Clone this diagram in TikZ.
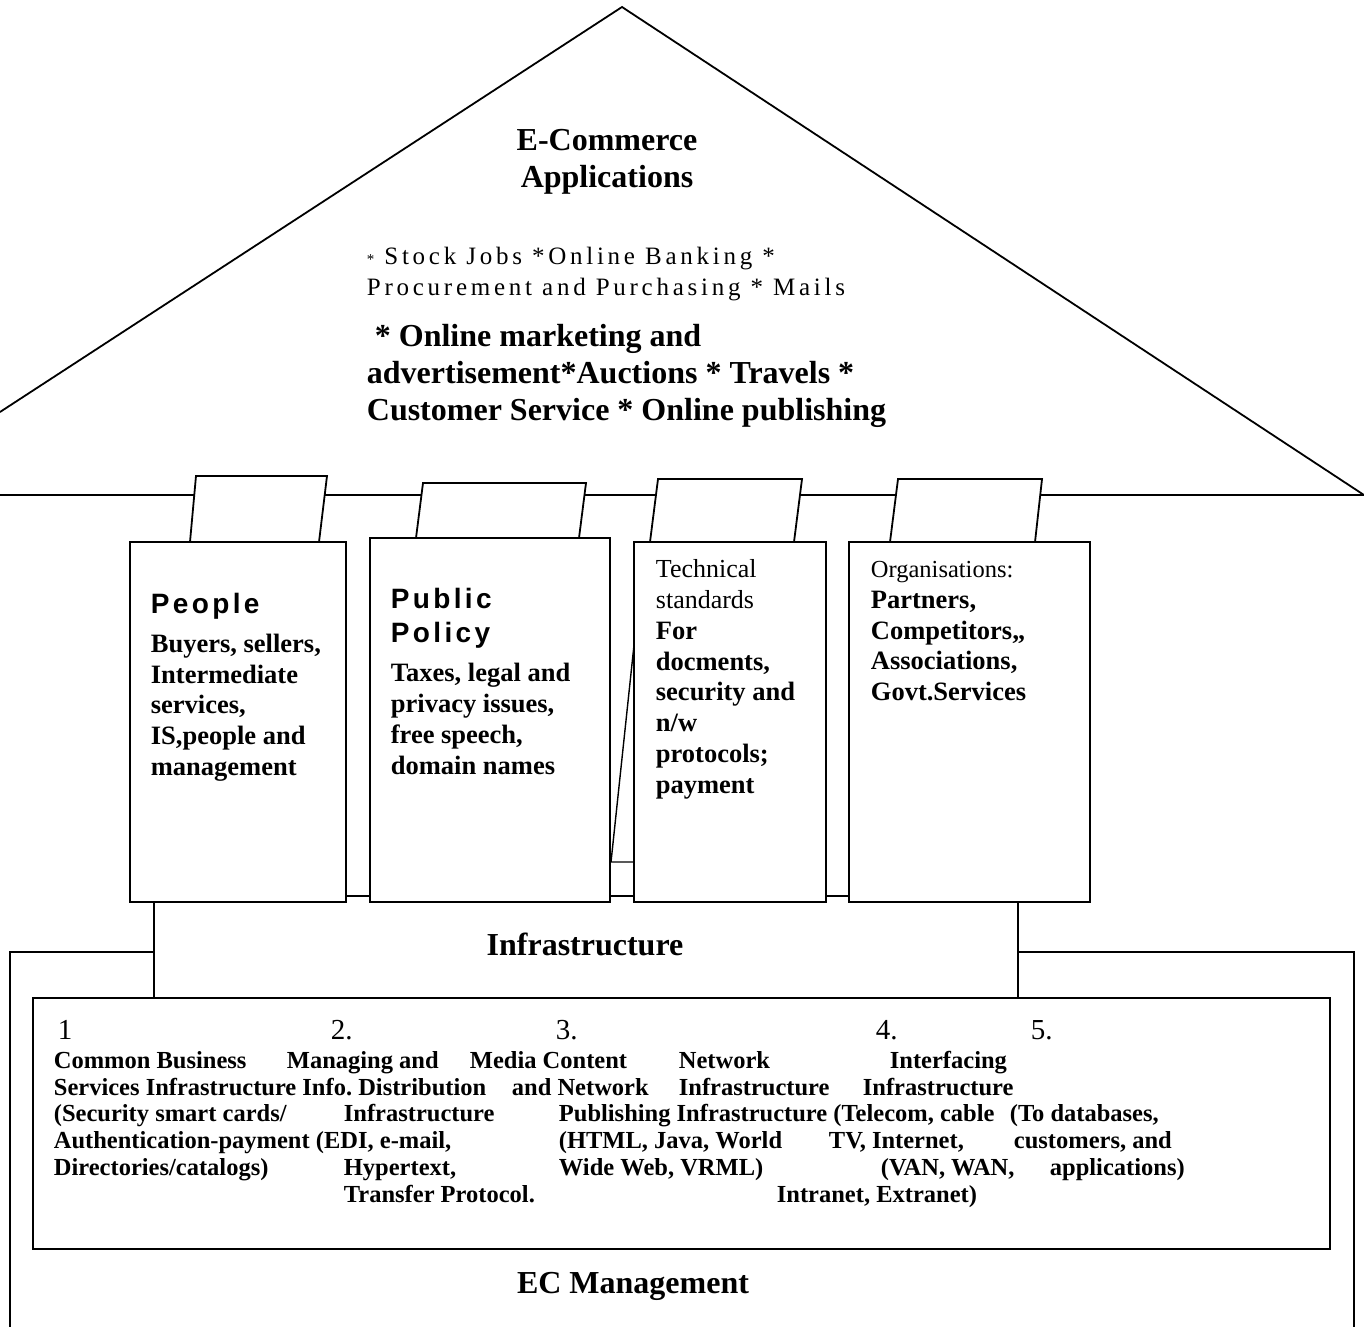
\documentclass[tikz,border=0pt]{standalone}
\usepackage{fontspec}
\setmainfont{Liberation Serif}
\newfontfamily\sansLS[LetterSpace=12]{Liberation Sans}
\newfontfamily\serifLS[LetterSpace=15]{Liberation Serif}
\frenchspacing
\begin{document}
\frenchspacing
\begin{tikzpicture}[x=1pt,y=-1pt,line width=1.8pt,line join=miter,
  tx/.style={anchor=base west,inner sep=0pt},
  ctr/.style={anchor=base,inner sep=0pt},
  shp/.style={draw,fill=white},
  title/.style={font=\frenchspacing\fontsize{32}{37}\selectfont\bfseries},
  small/.style={font=\serifLS\fontsize{25}{31}\selectfont},
  pill/.style={font=\frenchspacing\fontsize{26.5}{30.5}\selectfont\bfseries},
  pillhead/.style={font=\sansLS\fontsize{28}{34}\selectfont\bfseries},
  pillreg/.style={font=\fontsize{26}{30}\selectfont},
  orgreg/.style={font=\fontsize{24.5}{30}\selectfont},
  bot/.style={font=\frenchspacing\fontsize{24.5}{27}\selectfont\bfseries},
  num/.style={font=\fontsize{29}{32}\selectfont}]
\useasboundingbox (0,0) rectangle (1364,1326);
% EC management frame (open at bottom)
\draw (10,1330) -- (10,952) -- (1354,952) -- (1354,1330);
% Infrastructure block
\draw[shp] (154,896) rectangle (1018,998);
% roof
\draw (0,412) -- (622,7) -- (1364,495);
\draw (0,495) -- (1364,495);
% tabs
\draw[shp] (196,476) -- (327,476) -- (319,542) -- (190,542) -- cycle;
\draw[shp] (423,483) -- (586,483) -- (579,538) -- (416,538) -- cycle;
\draw[shp] (658,479) -- (802,479) -- (794,542) -- (650,542) -- cycle;
\draw[shp] (898,479) -- (1042,479) -- (1035,542) -- (890,542) -- cycle;
% thin slanted line behind technical pillar
\draw[line width=1.4pt] (634,645) -- (611,862) -- (634,862);
% pillars
\draw[shp] (130,542) rectangle (346,902);
\draw[shp] (370,538) rectangle (610,902);
\draw[shp] (634,542) rectangle (826,902);
\draw[shp] (849,542) rectangle (1090,902);
% inner infrastructure box
\draw[shp] (33,998) rectangle (1330,1249);

% roof texts
\node[ctr,title] (t1) at (607,150) {E-Commerce};
\node[ctr,title] (t2) at (607,187) {Applications};
\node[tx,small] (s1) at (366,264) {{\fontsize{15}{15}\selectfont *} Stock Jobs *Online Banking *};
\node[tx,small] (s2) at (366,295) {Procurement and Purchasing * Mails};
\node[tx,title] (b1) at (374,346) {* Online marketing and};
\node[tx,title] (b2) at (366,383) {advertisement*Auctions * Travels *};
\node[tx,title] (b3) at (366,420) {Customer Service * Online publishing};

% People
\node[tx,pillhead] (p0) at (150,613) {People};
\node[tx,pill] (p1) at (150,652) {Buyers, sellers,};
\node[tx,pill] (p2) at (150,683) {Intermediate};
\node[tx,pill] (p3) at (150,713) {services,};
\node[tx,pill] (p4) at (150,744) {IS,people and};
\node[tx,pill] (p5) at (150,775) {management};
% Public policy
\node[tx,pillhead] (q0) at (390,608) {Public};
\node[tx,pillhead] (q1) at (390,642) {Policy};
\node[tx,pill] (q2) at (390,681) {Taxes, legal and};
\node[tx,pill] (q3) at (390,712) {privacy issues,};
\node[tx,pill] (q4) at (390,743) {free speech,};
\node[tx,pill] (q5) at (390,774) {domain names};
% Technical
\node[tx,pillreg] (r0) at (655,577) {Technical};
\node[tx,pillreg] (r1) at (655,608) {standards};
\node[tx,pill] (r2) at (655,639) {For};
\node[tx,pill] (r3) at (655,670) {docments,};
\node[tx,pill] (r4) at (655,700) {security and};
\node[tx,pill] (r5) at (655,731) {n/w};
\node[tx,pill] (r6) at (655,762) {protocols;};
\node[tx,pill] (r7) at (655,793) {payment};
% Organisations
\node[tx,orgreg] (o0) at (870,577) {Organisations:};
\node[tx,pill] (o1) at (870,608) {Partners,};
\node[tx,pill] (o2) at (870,639) {Competitors,,};
\node[tx,pill] (o3) at (870,669) {Associations,};
\node[tx,pill] (o4) at (870,700) {Govt.Services};

\node[ctr,title] (inf) at (585,955) {Infrastructure};
\node[ctr,title] (ecm) at (633,1293) {EC Management};

% numbers
\node[tx,num] (n1) at (57,1039) {1};
\node[tx,num] (n2) at (330,1039) {2.};
\node[tx,num] (n3) at (555,1039) {3.};
\node[tx,num] (n4) at (875,1039) {4.};
\node[tx,num] (n5) at (1030,1039) {5.};
% row A
\node[tx,bot] (a1) at (53,1068) {Common Business};
\node[tx,bot] (a2) at (286,1068) {Managing and};
\node[tx,bot] (a3) at (469,1068) {Media Content};
\node[tx,bot] (a4) at (678,1068) {Network};
\node[tx,bot] (a5) at (889,1068) {Interfacing};
% row B
\node[tx,bot] (c1) at (53,1095) {Services Infrastructure Info. Distribution};
\node[tx,bot] (c2) at (511,1095) {and Network};
\node[tx,bot] (c3) at (678,1095) {Infrastructure};
\node[tx,bot] (c4) at (862,1095) {Infrastructure};
% row C
\node[tx,bot] (d1) at (53,1121) {(Security smart cards/};
\node[tx,bot] (d2) at (343,1121) {Infrastructure};
\node[tx,bot] (d3) at (558,1121) {Publishing Infrastructure (Telecom, cable};
\node[tx,bot] (d4) at (1009,1121) {(To databases,};
% row D
\node[tx,bot] (e1) at (53,1148) {Authentication-payment (EDI, e-mail,};
\node[tx,bot] (e2) at (558,1148) {(HTML, Java, World};
\node[tx,bot] (e3) at (828,1148) {TV, Internet,};
\node[tx,bot] (e4) at (1013,1148) {customers, and};
% row E
\node[tx,bot] (f1) at (53,1175) {Directories/catalogs)};
\node[tx,bot] (f2) at (343,1175) {Hypertext,};
\node[tx,bot] (f3) at (558,1175) {Wide Web, VRML)};
\node[tx,bot] (f4) at (880,1175) {(VAN, WAN,};
\node[tx,bot] (f5) at (1049,1175) {applications)};
% row F
\node[tx,bot] (g1) at (343,1202) {Transfer Protocol.};
\node[tx,bot] (g2) at (776,1202) {Intranet, Extranet)};
\end{tikzpicture}
\end{document}
